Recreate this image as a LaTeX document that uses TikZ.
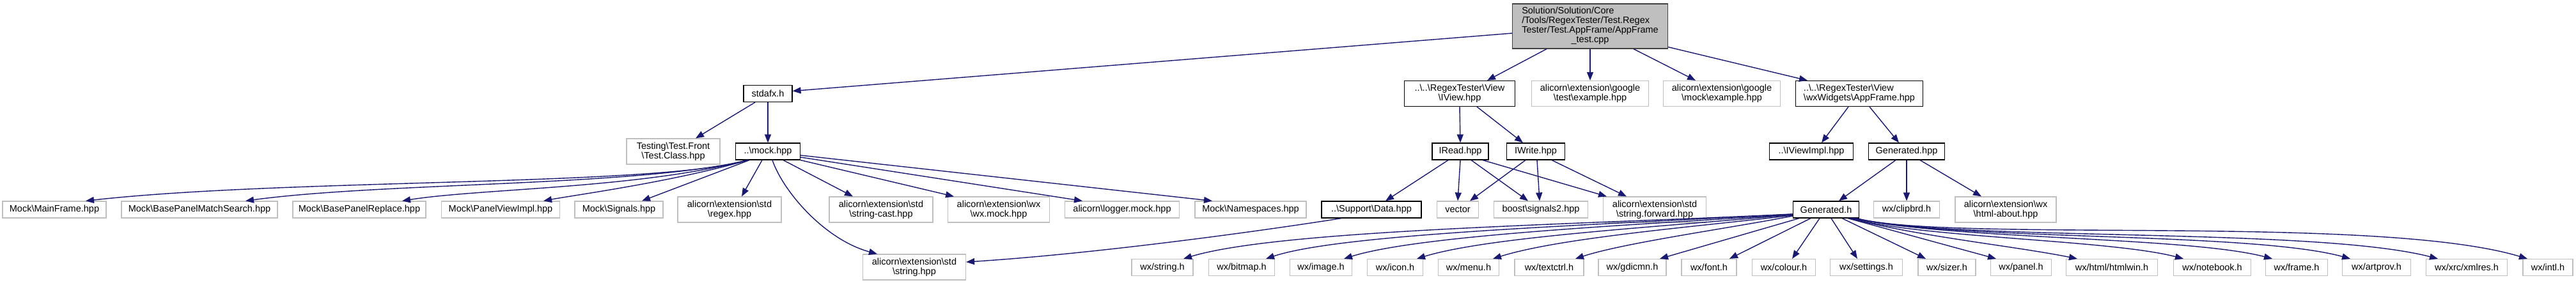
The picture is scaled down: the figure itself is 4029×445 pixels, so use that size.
\documentclass[tikz,border=0pt]{standalone}
\usepackage{fontspec}
\setmainfont{Liberation Sans}
\usetikzlibrary{arrows.meta}
\definecolor{edgeblue}{HTML}{191970}
\definecolor{nodegray}{HTML}{BFBFBF}
\definecolor{rootedge}{HTML}{404040}
\newcommand{\BSL}{\textbackslash}
\begin{document}
\begin{tikzpicture}[x=1pt,y=-1pt,
  every node/.style={font=\fontsize{14.5}{15}\selectfont, inner sep=0pt, align=center},
  ext/.style={draw=nodegray, line width=1.2pt, fill=white, minimum height=26pt},
  ext2/.style={ext, minimum height=40pt},
  doc/.style={draw=black, line width=1.2pt, fill=white, minimum height=26pt},
  doc2/.style={doc, minimum height=40pt},
  rootbox/.style={draw=rootedge, fill=nodegray, line width=1.2pt, minimum height=70pt},
  conn/.style={draw=edgeblue, line width=1.4pt, -{Triangle[length=13pt,width=10pt]}}
]
\useasboundingbox (0,0) rectangle (4029,445);

% row A
\node[rootbox, minimum width=243pt] (root) at (2487,41) {\begin{tabular}{@{}l@{}}Solution/Solution/Core\\/Tools/RegexTester/Test.Regex\\Tester/Test.AppFrame/AppFrame\\\multicolumn{1}{@{}c@{}}{\_test.cpp}\end{tabular}};

% row B
\node[doc, minimum width=76pt] (stdafx) at (1201,146.5) {stdafx.h};
\node[doc2, minimum width=173pt] (iview) at (2283,146.5) {..\BSL{}..\BSL{}RegexTester\BSL{}View\\\BSL{}IView.hpp};
\node[ext2, minimum width=183pt] (gtest) at (2487,146.5) {alicorn\BSL{}extension\BSL{}google\\\BSL{}test\BSL{}example.hpp};
\node[ext2, minimum width=183pt] (gmock) at (2693,146.5) {alicorn\BSL{}extension\BSL{}google\\\BSL{}mock\BSL{}example.hpp};
\node[doc2, minimum width=199pt, align=left] (appframe) at (2908,146.5) {..\BSL{}..\BSL{}RegexTester\BSL{}View\\\BSL{}wxWidgets\BSL{}AppFrame.hpp};

% row C
\node[ext2, minimum width=146pt] (testclass) at (1053,237) {Testing\BSL{}Test.Front\\\BSL{}Test.Class.hpp};
\node[doc, minimum width=101pt] (mock) at (1201,237) {..\BSL{}mock.hpp};
\node[doc, minimum width=88pt] (iread) at (2284,237) {IRead.hpp};
\node[doc, minimum width=91pt] (iwrite) at (2402,237) {IWrite.hpp};
\node[doc, minimum width=131pt] (iviewimpl) at (2833,237) {..\BSL{}IViewImpl.hpp};
\node[doc, minimum width=119pt] (genhpp) at (2982,237) {Generated.hpp};

% row D
\node[ext, minimum width=162pt] (mainframe) at (85,328) {Mock\BSL{}MainFrame.hpp};
\node[ext, minimum width=244pt] (msearch) at (312,328) {Mock\BSL{}BasePanelMatchSearch.hpp};
\node[ext, minimum width=208pt] (mreplace) at (562,328) {Mock\BSL{}BasePanelReplace.hpp};
\node[ext, minimum width=185pt] (pvi) at (783,328) {Mock\BSL{}PanelViewImpl.hpp};
\node[ext, minimum width=138pt] (signals) at (968,328) {Mock\BSL{}Signals.hpp};
\node[ext2, minimum width=162pt] (regex) at (1141,328) {alicorn\BSL{}extension\BSL{}std\\\BSL{}regex.hpp};
\node[ext2, minimum width=162pt] (scast) at (1378,328) {alicorn\BSL{}extension\BSL{}std\\\BSL{}string-cast.hpp};
\node[ext2, minimum width=159pt] (wxmock) at (1562,328) {alicorn\BSL{}extension\BSL{}wx\\\BSL{}wx.mock.hpp};
\node[ext, minimum width=179pt] (logger) at (1755,328) {alicorn\BSL{}logger.mock.hpp};
\node[ext, minimum width=174pt] (nspaces) at (1956,328) {Mock\BSL{}Namespaces.hpp};
\node[doc, minimum width=156pt] (data) at (2145,328) {..\BSL{}Support\BSL{}Data.hpp};
\node[ext, minimum width=65pt] (vector) at (2280,328) {vector};
\node[ext, minimum width=147pt] (signals2) at (2410,328) {boost\BSL{}signals2.hpp};
\node[ext2, minimum width=161pt] (strfwd) at (2588,328) {alicorn\BSL{}extension\BSL{}std\\\BSL{}string.forward.hpp};
\node[doc, minimum width=103pt] (genh) at (2856,328) {Generated.h};
\node[ext, minimum width=103pt] (clipbrd) at (2982,328) {wx/clipbrd.h};
\node[ext2, minimum width=158pt] (htmlabout) at (3137,328) {alicorn\BSL{}extension\BSL{}wx\\\BSL{}html-about.hpp};

% row E
\node[ext2, minimum width=161pt] (strhpp) at (1430,418) {alicorn\BSL{}extension\BSL{}std\\\BSL{}string.hpp};
\node[ext, minimum width=96pt] (wxstring) at (1818,418.5) {wx/string.h};
\node[ext, minimum width=103pt] (wxbitmap) at (1942,418.5) {wx/bitmap.h};
\node[ext, minimum width=97pt] (wximage) at (2066,418.5) {wx/image.h};
\node[ext, minimum width=87pt] (wxicon) at (2182,418.5) {wx/icon.h};
\node[ext, minimum width=95pt] (wxmenu) at (2297,418.5) {wx/menu.h};
\node[ext, minimum width=108pt] (wxtextctrl) at (2423,418.5) {wx/textctrl.h};
\node[ext, minimum width=106pt] (wxgdicmn) at (2553,418.5) {wx/gdicmn.h};
\node[ext, minimum width=86pt] (wxfont) at (2673,418.5) {wx/font.h};
\node[ext, minimum width=99pt] (wxcolour) at (2790,418.5) {wx/colour.h};
\node[ext, minimum width=113pt] (wxsettings) at (2919,418.5) {wx/settings.h};
\node[ext, minimum width=90pt] (wxsizer) at (3045,418.5) {wx/sizer.h};
\node[ext, minimum width=95pt] (wxpanel) at (3161,418.5) {wx/panel.h};
\node[ext, minimum width=143pt] (wxhtmlwin) at (3303,418.5) {wx/html/htmlwin.h};
\node[ext, minimum width=121pt] (wxnotebook) at (3460,418.5) {wx/notebook.h};
\node[ext, minimum width=97pt] (wxframe) at (3592,418.5) {wx/frame.h};
\node[ext, minimum width=107pt] (wxartprov) at (3717,418.5) {wx/artprov.h};
\node[ext, minimum width=127pt] (wxxmlres) at (3858,418.5) {wx/xrc/xmlres.h};
\node[ext, minimum width=78pt] (wxintl) at (3985,418.5) {wx/intl.h};

% edges from root
\draw[conn] ([yshift=-11pt]root.west) -- ([yshift=4pt]stdafx.east);
\draw[conn] ([xshift=-68pt]root.south) -- ([xshift=43pt]iview.north);
\draw[conn] (root.south) -- (gtest.north);
\draw[conn] ([xshift=68pt]root.south) -- ([xshift=-41pt]gmock.north);
\draw[conn] ([yshift=3pt]root.south east) -- ([xshift=-81pt]appframe.north);

% stdafx
\draw[conn] ([xshift=-20pt]stdafx.south) -- ([xshift=35pt]testclass.north);
\draw[conn] (stdafx.south) -- (mock.north);

% mock
\draw[conn] ([xshift=-32pt]mock.south) .. controls (1030,292) and (450,279) .. ([xshift=49pt]mainframe.north);
\draw[conn] ([xshift=-32pt]mock.south) .. controls (1000,292) and (600,285) .. ([xshift=72pt]msearch.north);
\draw[conn] ([xshift=-32pt]mock.south) .. controls (1000,295) and (750,295) .. ([xshift=67pt]mreplace.north);
\draw[conn] ([xshift=-31pt]mock.south) .. controls (1050,285) and (900,305) .. ([xshift=67pt]pvi.north);
\draw[conn] ([xshift=-29pt]mock.south) -- ([xshift=36pt]signals.north);
\draw[conn] ([xshift=-9pt]mock.south) -- ([xshift=19pt]regex.north);
\draw[conn] ([xshift=7pt]mock.south) .. controls (1225,300) and (1290,375) .. ([xshift=-58pt]strhpp.north);
\draw[conn] ([xshift=24pt]mock.south) -- ([xshift=-44pt]scast.north);
\draw[conn] (mock.south east) -- ([xshift=-70pt]wxmock.north);
\draw[conn] ([yshift=-9pt]mock.east) -- ([xshift=-62pt]logger.north);
\draw[conn] ([yshift=-6pt]mock.east) -- ([xshift=-60pt]nspaces.north);

% IView, IRead, IWrite
\draw[conn] (iview.south) -- (iread.north);
\draw[conn] ([xshift=27pt]iview.south) -- ([xshift=-20pt]iwrite.north);
\draw[conn] ([xshift=-19pt]iread.south) -- ([xshift=22pt]data.north);
\draw[conn] (iread.south) -- (vector.north);
\draw[conn] ([xshift=17pt]iread.south) -- ([xshift=-20pt]signals2.north);
\draw[conn] ([xshift=35pt]iread.south) -- ([xshift=-75pt]strfwd.north);
\draw[conn] ([xshift=-16pt]iwrite.south) -- ([xshift=19pt]vector.north);
\draw[conn] ([xshift=2pt]iwrite.south) -- ([xshift=-2pt]signals2.north);
\draw[conn] ([xshift=25pt]iwrite.south) -- ([xshift=-44pt]strfwd.north);
\draw[conn] ([xshift=-47pt]data.south) .. controls (1950,365) and (1700,398) .. ([yshift=8pt]strhpp.east);

% AppFrame
\draw[conn] ([xshift=-17pt]appframe.south) -- ([xshift=16pt]iviewimpl.north);
\draw[conn] ([xshift=16pt]appframe.south) -- ([xshift=-12pt]genhpp.north);
\draw[conn] ([xshift=-17pt]genhpp.south) -- ([xshift=20pt]genh.north);
\draw[conn] (genhpp.south) -- (clipbrd.north);
\draw[conn] ([xshift=21pt]genhpp.south) -- ([xshift=-38pt]htmlabout.north);

% Generated.h fan
\draw[conn] ([yshift=-7pt]genh.west) .. controls (2450,352) and (2000,360) .. ([xshift=33pt]wxstring.north);
\draw[conn] ([yshift=-7pt]genh.west) .. controls (2500,352) and (2100,365) .. ([xshift=38pt]wxbitmap.north);
\draw[conn] ([yshift=-8pt]genh.west) .. controls (2550,352) and (2220,368) .. ([xshift=36pt]wximage.north);
\draw[conn] ([yshift=-8pt]genh.west) .. controls (2600,355) and (2330,370) .. ([xshift=34pt]wxicon.north);
\draw[conn] ([yshift=-9pt]genh.west) .. controls (2650,355) and (2440,372) .. ([xshift=38pt]wxmenu.north);
\draw[conn] ([yshift=-10pt]genh.west) .. controls (2700,358) and (2540,380) .. ([xshift=41pt]wxtextctrl.north);
\draw[conn] ([xshift=-42pt]genh.south) -- ([xshift=43pt]wxgdicmn.north);
\draw[conn] ([xshift=-24pt]genh.south) -- ([xshift=32pt]wxfont.north);
\draw[conn] ([xshift=-10pt]genh.south) -- ([xshift=13pt]wxcolour.north);
\draw[conn] ([xshift=8pt]genh.south) -- ([xshift=-14pt]wxsettings.north);
\draw[conn] ([xshift=25pt]genh.south) -- ([xshift=-33pt]wxsizer.north);
\draw[conn] ([xshift=34pt]genh.south) -- ([xshift=-39pt]wxpanel.north);
\draw[conn] ([xshift=37pt]genh.south) .. controls (3000,370) and (3150,385) .. ([xshift=-54pt]wxhtmlwin.north);
\draw[conn] ([xshift=40pt]genh.south) .. controls (3000,372) and (3300,375) .. ([xshift=-45pt]wxnotebook.north);
\draw[conn] ([xshift=42pt]genh.south) .. controls (3050,375) and (3420,370) .. ([xshift=-38pt]wxframe.north);
\draw[conn] ([xshift=44pt]genh.south) .. controls (3050,377) and (3520,362) .. ([xshift=-41pt]wxartprov.north);
\draw[conn] ([xshift=46pt]genh.south) .. controls (3050,378) and (3620,355) .. ([xshift=-45pt]wxxmlres.north);
\draw[conn] ([xshift=48pt]genh.south) .. controls (3050,380) and (3720,335) .. ([xshift=-32pt]wxintl.north);
\end{tikzpicture}
\end{document}
